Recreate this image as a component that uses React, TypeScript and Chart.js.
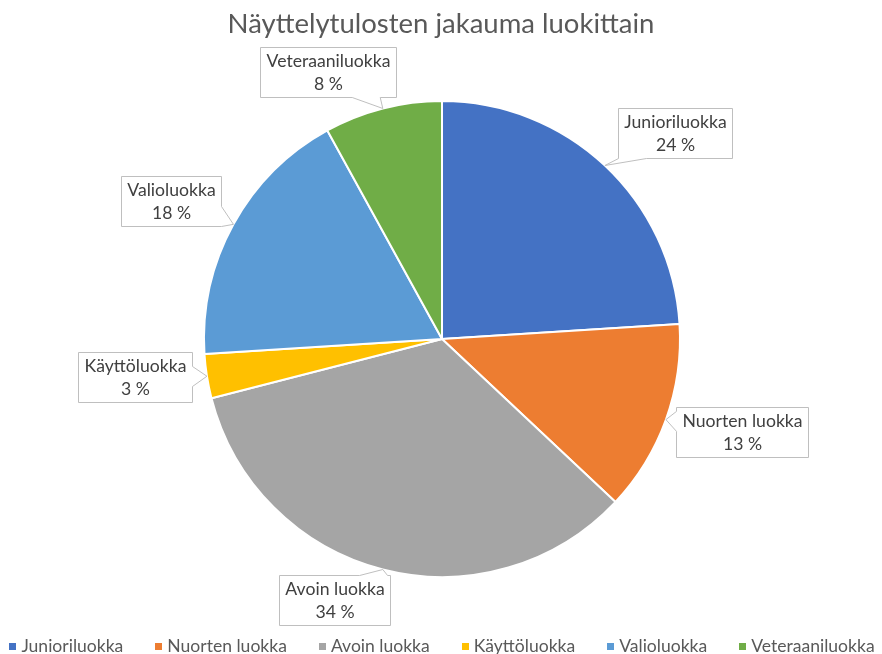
import React, { useEffect, useRef } from "react";
import { Chart, registerables } from "chart.js";

Chart.register(...registerables);

// ---------- data ----------
const chartTitle = "Näyttelytulosten jakauma luokittain";
const categories = [
  "Junioriluokka",
  "Nuorten luokka",
  "Avoin luokka",
  "Käyttöluokka",
  "Valioluokka",
  "Veteraaniluokka",
];
const shares = [24, 13, 34, 3, 18, 8];
const sliceColors = ["#4472C4", "#ED7D31", "#A5A5A5", "#FFC000", "#5B9BD5", "#70AD47"];

// ---------- layout (not data) ----------
// callout box centre: [angle in degrees clockwise from top, distance in radii]
const calloutPlacement: [number, number][] = [
  [48.5, 1.307],
  [107.2, 1.319],
  [202.5, 1.185],
  [263, 1.3],
  [297, 1.277],
  [336.9, 1.218],
];
const FONT = "Lato";
const W = 882;
const H = 654;

function fitSize(ctx: CanvasRenderingContext2D, text: string, target: number) {
  ctx.font = `100px ${FONT}`;
  const w = ctx.measureText(text).width;
  return (100 * target) / w;
}

function calloutPath(
  ctx: CanvasRenderingContext2D,
  x: number,
  y: number,
  w: number,
  h: number,
  tx: number,
  ty: number
) {
  const cx = x + w / 2;
  const cy = y + h / 2;
  const dx = tx - cx;
  const dy = ty - cy;
  const inside = Math.abs(dx) <= w / 2 && Math.abs(dy) <= h / 2;
  let side = "";
  if (!inside) {
    if (Math.abs(dx) / (w / 2) > Math.abs(dy) / (h / 2)) side = dx > 0 ? "right" : "left";
    else side = dy > 0 ? "bottom" : "top";
  }
  const clamp = (v: number, a: number, b: number) => Math.max(a, Math.min(b, v));
  ctx.beginPath();
  ctx.moveTo(x, y);
  // top edge
  if (side === "top") {
    const t = (y - cy) / dy;
    const ix = clamp(cx + dx * t, x + 14, x + w - 14);
    ctx.lineTo(ix - 14, y);
    ctx.lineTo(tx, ty);
    ctx.lineTo(ix + 14, y);
  }
  ctx.lineTo(x + w, y);
  if (side === "right") {
    const t = (x + w - cx) / dx;
    const iy = clamp(cy + dy * t, y + 10, y + h - 10);
    ctx.lineTo(x + w, iy - 10);
    ctx.lineTo(tx, ty);
    ctx.lineTo(x + w, iy + 10);
  }
  ctx.lineTo(x + w, y + h);
  if (side === "bottom") {
    const t = (y + h - cy) / dy;
    const ix = clamp(cx + dx * t, x + 14, x + w - 14);
    ctx.lineTo(ix + 14, y + h);
    ctx.lineTo(tx, ty);
    ctx.lineTo(ix - 14, y + h);
  }
  ctx.lineTo(x, y + h);
  if (side === "left") {
    const t = (x - cx) / dx;
    const iy = clamp(cy + dy * t, y + 10, y + h - 10);
    ctx.lineTo(x, iy + 10);
    ctx.lineTo(tx, ty);
    ctx.lineTo(x, iy - 10);
  }
  ctx.closePath();
}

const decorPlugin = {
  id: "decor",
  afterDraw(chart: any) {
    const ctx: CanvasRenderingContext2D = chart.ctx;
    ctx.save();

    // title
    const titleSize = fitSize(ctx, chartTitle, 427);
    ctx.font = `${titleSize}px ${FONT}`;
    ctx.fillStyle = "#595959";
    ctx.textAlign = "center";
    ctx.textBaseline = "alphabetic";
    ctx.fillText(chartTitle, 441, 33);

    // callouts
    const labelSize = fitSize(ctx, "Veteraaniluokka", 124);
    const total = shares.reduce((a, b) => a + b, 0);
    const meta = chart.getDatasetMeta(0);
    meta.data.forEach((arc: any, i: number) => {
      const R = arc.outerRadius;
      const mid = (arc.startAngle + arc.endAngle) / 2;
      const tx = arc.x + Math.cos(mid) * R;
      const ty = arc.y + Math.sin(mid) * R;
      const [deg, k] = calloutPlacement[i];
      const a = ((deg - 90) * Math.PI) / 180;
      const bcx = arc.x + Math.cos(a) * k * R;
      const bcy = arc.y + Math.sin(a) * k * R;
      const line1 = categories[i];
      const line2 = `${Math.round((shares[i] / total) * 100)} %`;
      ctx.font = `${labelSize}px ${FONT}`;
      const tw = Math.max(ctx.measureText(line1).width, ctx.measureText(line2).width);
      const bw = Math.round(tw + 12);
      const bh = 50;
      const bx = Math.round(bcx - bw / 2) + 0.5;
      const by = Math.round(bcy - bh / 2) + 0.5;
      calloutPath(ctx, bx, by, bw, bh, tx, ty);
      ctx.fillStyle = "#FFFFFF";
      ctx.fill();
      ctx.strokeStyle = "#BFBFBF";
      ctx.lineWidth = 1;
      ctx.stroke();
      ctx.fillStyle = "#404040";
      ctx.textAlign = "center";
      ctx.textBaseline = "middle";
      ctx.fillText(line1, bx + bw / 2, by + bh / 2 - 11);
      ctx.fillText(line2, bx + bw / 2, by + bh / 2 + 12);
    });

    // legend
    const legSize = fitSize(ctx, "Junioriluokka", 102);
    ctx.font = `${legSize}px ${FONT}`;
    const sq = 7;
    const gapSqText = 5;
    const gapItems = 32;
    const widths = categories.map((c) => ctx.measureText(c).width);
    const totalW =
      widths.reduce((s, w) => s + sq + gapSqText + w, 0) + gapItems * (categories.length - 1);
    let lx = 442 - totalW / 2;
    const ly = 646;
    ctx.textAlign = "left";
    ctx.textBaseline = "middle";
    categories.forEach((c, i) => {
      ctx.fillStyle = sliceColors[i];
      ctx.fillRect(Math.round(lx), ly - 3, sq, sq);
      ctx.fillStyle = "#595959";
      ctx.fillText(c, lx + sq + gapSqText, ly);
      lx += sq + gapSqText + widths[i] + gapItems;
    });

    ctx.restore();
  },
};

export default function App() {
  const ref = useRef<HTMLCanvasElement | null>(null);
  useEffect(() => {
    if (!ref.current) return;
    const chart = new Chart(ref.current, {
      type: "pie",
      data: {
        labels: categories,
        datasets: [
          {
            data: shares,
            backgroundColor: sliceColors,
            borderColor: "#FFFFFF",
            borderWidth: 2,
          },
        ],
      },
      options: {
        responsive: false,
        animation: false,
        layout: { padding: { left: 203, right: 201, top: 100, bottom: 76 } },
        plugins: {
          legend: { display: false },
          title: { display: false },
          tooltip: { enabled: false },
        },
      },
      plugins: [decorPlugin],
    });
    return () => chart.destroy();
  }, []);
  return (
    <div style={{ position: "fixed", left: 0, top: 0, width: W, height: H, background: "#fff" }}>
      <canvas ref={ref} width={W} height={H} style={{ width: W, height: H, display: "block" }} />
    </div>
  );
}
